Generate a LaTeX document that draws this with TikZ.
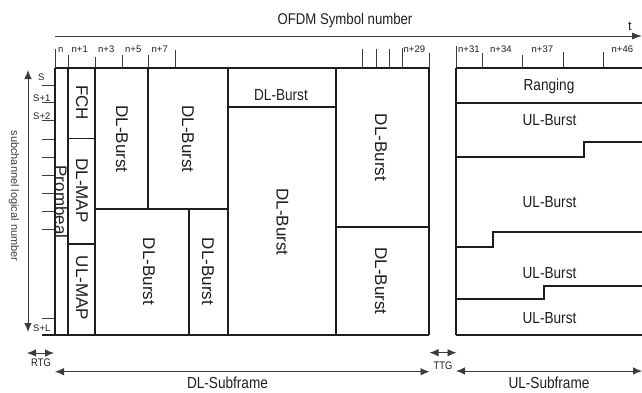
\documentclass[tikz,border=0pt]{standalone}
\usepackage{fontspec}
\setmainfont{Liberation Sans}
\newfontfamily\cf[FakeStretch=0.85]{Liberation Sans}
\usetikzlibrary{arrows.meta}
\definecolor{ink}{HTML}{1E1E1E}
\definecolor{axisgray}{HTML}{3C3C3C}
\begin{document}
\begin{tikzpicture}[x=1pt,y=-1pt,
 frame/.style={line width=1.4pt, draw=ink},
 axis/.style={line width=0.9pt, draw=axisgray},
 tickline/.style={line width=0.7pt, draw=axisgray},
 hlab/.style={font=\cf\fontsize{16}{16}\selectfont, text=ink, inner sep=0pt, anchor=base},
 vlab/.style={font=\fontsize{17}{17}\selectfont, text=ink, inner sep=0pt, rotate=-90, anchor=center},
 toplab/.style={font=\fontsize{9.5}{9.5}\selectfont, text=ink, inner sep=0pt, anchor=base west},
 sidelab/.style={font=\fontsize{9.5}{9.5}\selectfont, text=ink, inner sep=0pt, anchor=base west},
 smalllab/.style={font=\cf\fontsize{11}{11}\selectfont, text=ink, inner sep=0pt, anchor=base},
 tip/.style={-{Latex[length=10pt,width=7pt]}},
 dtip/.style={{Latex[length=9pt,width=7.5pt]}-{Latex[length=9pt,width=7.5pt]}},
]
\useasboundingbox (0,0) rectangle (642,392);

% ---------- top axis ----------
\node[hlab, font=\cf\fontsize{15.5}{15.5}\selectfont] (ofdm) at (345,24) {OFDM Symbol number};
\node[hlab, font=\fontsize{13}{13}\selectfont] (tlabel) at (630,30) {t};
\coordinate (axL) at (55,36);
\coordinate (axR) at (642,36);
\draw[axis, tip] (axL) -- (axR);

% ticks
\foreach \x/\y in {55/49, 68/55, 95/57, 122/55, 148/55, 175/50, 362/49, 376/49, 389/49, 402/48, 429/53, 456/46, 482/53, 522/55, 563/52, 603/52}
  \draw[tickline] (\x,\y) -- (\x,68);
\node[toplab] (tn)   at (58,52)  {n};
\node[toplab] (tn1)  at (71.5,52) {n+1};
\node[toplab] (tn3)  at (98,52)  {n+3};
\node[toplab] (tn5)  at (125,52) {n+5};
\node[toplab] (tn7)  at (151.5,52) {n+7};
\node[toplab] (tn29) at (403.5,52) {n+29};
\node[toplab] (tn31) at (458,52) {n+31};
\node[toplab] (tn34) at (490,52) {n+34};
\node[toplab] (tn37) at (531.5,52) {n+37};
\node[toplab] (tn46) at (611.5,52) {n+46};

% ---------- left axis ----------
\node[font=\fontsize{11}{11}\selectfont, text=axisgray, inner sep=0pt, rotate=-90] (subch) at (14,196) {subchannel logical number};
\coordinate (vaT) at (28,70);
\coordinate (vaB) at (28,332);
\draw[axis, dtip] (vaT) -- (vaB);
\foreach \y in {85,102.3,120,139,157,175,193,211,229,318}
  \draw[tickline] (41.7,\y) -- (55,\y);
\node[sidelab] (sS)  at (38,80)  {S};
\node[sidelab] (sS1) at (33,101) {S+1};
\node[sidelab] (sS2) at (33,119) {S+2};
\node[sidelab] (sSL) at (33,331.5) {S+L};

% ---------- DL subframe grid ----------
\draw[frame] (55,68) -- (429,68);
\draw[frame] (41.7,335) -- (429,335);
\draw[frame] (55,68) -- (55,335);
\draw[frame] (68,68) -- (68,335);
\draw[frame] (95,68) -- (95,335);
\draw[frame] (429,68) -- (429,335);
\draw[frame] (148,68) -- (148,209);
\draw[frame] (228,68) -- (228,335);
\draw[frame] (189,209) -- (189,335);
\draw[frame] (336,68) -- (336,335);
\draw[frame] (95,209) -- (228,209);
\draw[frame] (68,138.3) -- (95,138.3);
\draw[frame] (68,244) -- (95,244);
\draw[frame] (228,107) -- (336,107);
\draw[frame] (336,227) -- (429,227);

\node[vlab] (prom) at (61,202) {Prombeal};
\node[vlab] (fch) at (82,102.5) {FCH};
\node[vlab] (dlmap) at (82,190.5) {DL-MAP};
\node[vlab] (ulmap) at (82,288) {UL-MAP};
\node[vlab] (dlb1) at (122,139) {DL-Burst};
\node[vlab] (dlb2) at (188,139) {DL-Burst};
\node[vlab] (dlb3) at (149,271.5) {DL-Burst};
\node[vlab] (dlb4) at (208,271.5) {DL-Burst};
\node[hlab] (dlb5) at (281,100) {DL-Burst};
\node[vlab] (dlb6) at (282.5,222) {DL-Burst};
\node[vlab] (dlb7) at (381,147.5) {DL-Burst};
\node[vlab] (dlb8) at (381,281) {DL-Burst};

% ---------- UL subframe grid ----------
\draw[frame] (456,68) -- (642,68);
\draw[frame] (456,335) -- (642,335);
\draw[frame] (456,68) -- (456,335);
\draw[frame] (456,103) -- (642,103);
\draw[frame] (456,157) -- (584,157) -- (584,142) -- (642,142);
\draw[frame] (456,247) -- (493,247) -- (493,232) -- (642,232);
\draw[frame] (456,299) -- (544,299) -- (544,286) -- (642,286);

\node[hlab] (rang) at (549,90.7) {Ranging};
\node[hlab] (ulb1) at (549.5,125) {UL-Burst};
\node[hlab] (ulb2) at (549.5,207.3) {UL-Burst};
\node[hlab] (ulb3) at (549.5,278.3) {UL-Burst};
\node[hlab] (ulb4) at (549.5,323.3) {UL-Burst};

% ---------- bottom arrows ----------
\coordinate (rtgL) at (27,353);
\coordinate (rtgR) at (54,353);
\draw[axis, dtip] (rtgL) -- (rtgR);
\node[smalllab] (rtg) at (41,366.5) {RTG};

\coordinate (ttgL) at (429.5,352.7);
\coordinate (ttgR) at (456.5,352.7);
\draw[axis, dtip] (ttgL) -- (ttgR);
\node[smalllab] (ttg) at (443,369) {TTG};

\coordinate (dlsL) at (55,371.7);
\coordinate (dlsR) at (429.5,371.7);
\draw[axis, dtip] (dlsL) -- (dlsR);
\node[hlab] (dlsub) at (227.5,388.3) {DL-Subframe};

\coordinate (ulsL) at (456,371);
\coordinate (ulsR) at (642,371);
\draw[axis, dtip] (ulsL) -- (ulsR);
\node[hlab] (ulsub) at (549,388.3) {UL-Subframe};
\end{tikzpicture}
\end{document}
